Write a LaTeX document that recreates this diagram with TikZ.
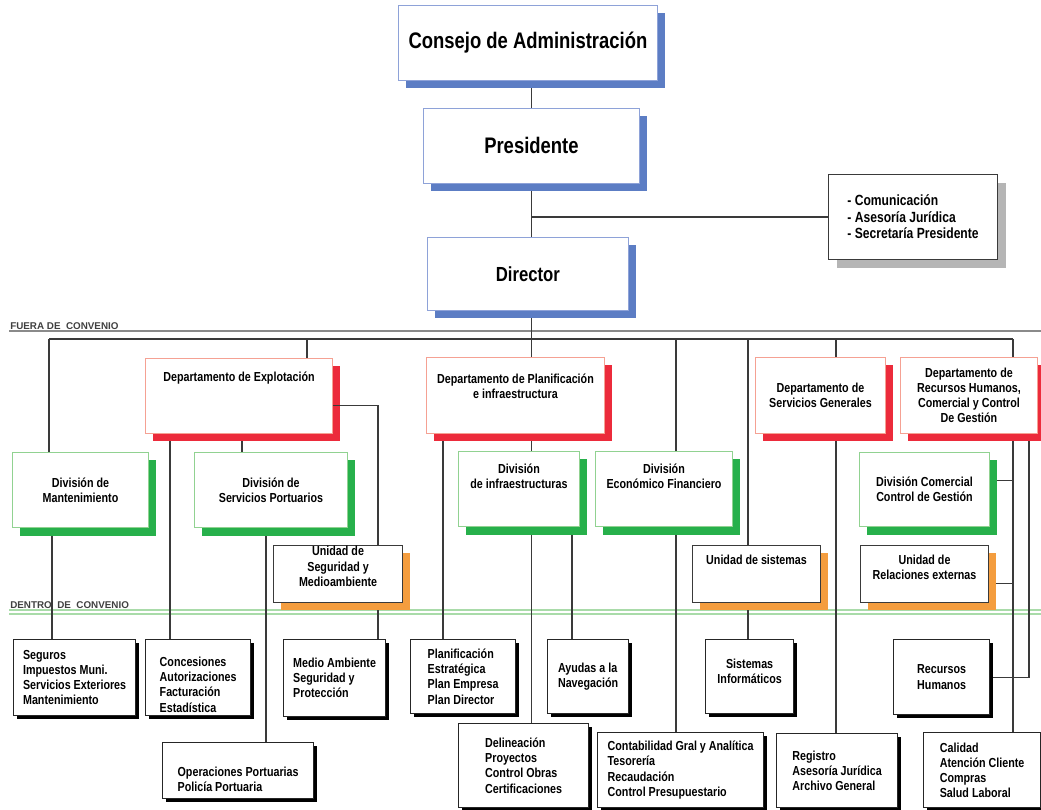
\documentclass[tikz,border=0pt]{standalone}
\usepackage{fontspec}
\newfontfamily\orgfont{Liberation Sans}[FakeStretch=0.82]
\newfontfamily\convfont{Liberation Sans}
\usetikzlibrary{shadows}
\usetikzlibrary{backgrounds}

\definecolor{govline}{HTML}{8EA2D8}
\definecolor{govshade}{HTML}{5C7DC4}
\definecolor{deptline}{HTML}{F5A193}
\definecolor{deptshade}{HTML}{EC2B3B}
\definecolor{divline}{HTML}{91D291}
\definecolor{divshade}{HTML}{27B04B}
\definecolor{unitshade}{HTML}{F49D3E}
\definecolor{staffshade}{HTML}{B5B5B5}
\definecolor{linkgray}{HTML}{3A3A3A}
\definecolor{convgray}{HTML}{8A8A8A}
\definecolor{convgreen}{HTML}{A9DBA9}

\begin{document}
\begin{tikzpicture}[
  orgbox/.style={fill=white, anchor=north west, align=center, inner sep=2pt},
  boxtext/.style={font=\orgfont\bfseries\fontsize{9.3}{10.8}\selectfont, align=center, inner sep=0pt},
  tasktext/.style={boxtext, align=left},
  govbox/.style={orgbox, draw=govline, line width=0.6pt, font=\orgfont\bfseries\fontsize{16}{19}\selectfont,
    drop shadow={shadow xshift=0.2cm, shadow yshift=-0.2cm, fill=govshade, opacity=1}},
  staffbox/.style={orgbox, draw=linkgray, line width=0.8pt, align=left,
    font=\orgfont\bfseries\fontsize{10.5}{11.7}\selectfont,
    drop shadow={shadow xshift=0.2cm, shadow yshift=-0.2cm, fill=staffshade, opacity=1}},
  deptbox/.style={orgbox, draw=deptline, line width=0.7pt, font=\orgfont\bfseries\fontsize{9.3}{10.8}\selectfont,
    drop shadow={shadow xshift=0.2cm, shadow yshift=-0.2cm, fill=deptshade, opacity=1}},
  divbox/.style={orgbox, draw=divline, line width=0.7pt, font=\orgfont\bfseries\fontsize{9.3}{10.8}\selectfont,
    drop shadow={shadow xshift=0.2cm, shadow yshift=-0.2cm, fill=divshade, opacity=1}},
  unitbox/.style={orgbox, draw=linkgray, line width=0.8pt, font=\orgfont\bfseries\fontsize{9.3}{10.8}\selectfont,
    drop shadow={shadow xshift=0.175cm, shadow yshift=-0.175cm, fill=unitshade, opacity=1}},
  taskbox/.style={orgbox, draw=black!85, line width=0.9pt, align=left, font=\orgfont\bfseries\fontsize{9.3}{10.8}\selectfont,
    drop shadow={shadow xshift=0.09cm, shadow yshift=-0.09cm, fill=black, opacity=1}},
  link/.style={draw=linkgray, line width=0.9pt},
  conv/.style={font=\convfont\bfseries\fontsize{7}{8}\selectfont, text=black!75, inner sep=0pt, anchor=base west}
]
\useasboundingbox (0,0) rectangle (26.025,-20.225);

% Top of the chart
\node[govbox, minimum width=6.475cm, minimum height=1.875cm] (consejo) at (9.95,-0.125) {Consejo de Administración};
\node[govbox, minimum width=5.4cm, minimum height=1.875cm] (presidente) at (10.575,-2.7) {Presidente};
\node[govbox, minimum width=5.025cm, minimum height=1.825cm, font=\orgfont\bfseries\fontsize{14.5}{17}\selectfont] (director) at (10.675,-5.925) {Director};
\node[staffbox, minimum width=4.225cm, minimum height=2.125cm] (staff) at (20.7,-4.35) {- Comunicación\\- Asesoría Jurídica\\- Secretaría Presidente};

% Convenio labels
\node[conv] (fuera) at (0.25,-8.225) {FUERA DE~ CONVENIO};
\node[conv] (dentro) at (0.25,-15.2) {DENTRO~ DE~ CONVENIO};

% Departamentos
\node[deptbox, minimum width=4.675cm, minimum height=1.875cm, label={[boxtext, yshift=0.46cm]center:Departamento de Explotación}] (explotacion) at (3.625,-8.95) {};
\node[deptbox, minimum width=4.45cm, minimum height=1.9cm, label={[boxtext, yshift=0.225cm]center:Departamento de Planificación\\e infraestructura}] (planificacion) at (10.65,-8.925) {};
\node[deptbox, minimum width=3.25cm, minimum height=1.9cm] (servgen) at (18.875,-8.925) {Departamento de\\Servicios Generales};
\node[deptbox, minimum width=3.425cm, minimum height=1.9cm] (rrhh) at (22.5,-8.925) {Departamento de\\Recursos Humanos,\\Comercial y Control\\De Gestión};

% Divisiones
\node[divbox, minimum width=3.4cm, minimum height=1.875cm] (mantenimiento) at (0.3,-11.3) {División de\\Mantenimiento};
\node[divbox, minimum width=3.825cm, minimum height=1.875cm] (portuarios) at (4.85,-11.3) {División de\\Servicios Portuarios};
\node[divbox, minimum width=3.025cm, minimum height=1.875cm, label={[boxtext, yshift=0.325cm]center:División\\de infraestructuras}] (infraestructuras) at (11.45,-11.275) {};
\node[divbox, minimum width=3.425cm, minimum height=1.875cm, label={[boxtext, yshift=0.325cm]center:División\\Económico Financiero}] (financiero) at (14.875,-11.275) {};
\node[divbox, minimum width=3.25cm, minimum height=1.85cm] (comercial) at (21.475,-11.3) {División Comercial\\Control de Gestión};

% Unidades
\node[unitbox, minimum width=3.225cm, minimum height=1.425cm, label={[boxtext, yshift=0.19cm]center:Unidad de\\Seguridad y\\Medioambiente}] (seguridad) at (6.825,-13.625) {};
\node[unitbox, minimum width=3.2cm, minimum height=1.425cm, label={[boxtext, yshift=0.36cm]center:Unidad de sistemas}] (sistemas) at (17.3,-13.625) {};
\node[unitbox, minimum width=3.2cm, minimum height=1.425cm, label={[boxtext, yshift=0.175cm]center:Unidad de\\Relaciones externas}] (relaciones) at (21.5,-13.625) {};

% Tareas (dentro de convenio)
\node[taskbox, minimum width=3.05cm, minimum height=1.9cm] (seguros) at (0.325,-15.975) {Seguros\\Impuestos Muni.\\Servicios Exteriores\\Mantenimiento};
\node[taskbox, minimum width=2.625cm, minimum height=1.9cm, label={[tasktext, yshift=-0.175cm]center:Concesiones\\Autorizaciones\\Facturación\\Estadística}] (concesiones) at (3.625,-15.975) {};
\node[taskbox, minimum width=2.55cm, minimum height=1.925cm] (medioamb) at (7.075,-15.975) {Medio Ambiente\\Seguridad y\\Protección};
\node[taskbox, minimum width=2.625cm, minimum height=1.85cm] (planest) at (10.25,-15.975) {Planificación\\Estratégica\\Plan Empresa\\Plan Director};
\node[taskbox, minimum width=2.025cm, minimum height=1.85cm] (ayudas) at (13.675,-15.975) {Ayudas a la\\Navegación};
\node[taskbox, minimum width=2.2cm, minimum height=1.85cm, label={[boxtext, yshift=0.125cm]center:Sistemas\\Informáticos}] (sisinf) at (17.625,-15.975) {};
\node[taskbox, align=center, minimum width=2.4cm, minimum height=1.875cm] (rrhhbox) at (22.325,-15.975) {Recursos\\Humanos};
\node[taskbox, minimum width=3.775cm, minimum height=1.4cm, label={[tasktext, yshift=-0.21cm]center:Operaciones Portuarias\\Policía Portuaria}] (operaciones) at (4.05,-18.55) {};
\node[taskbox, minimum width=3.25cm, minimum height=2.1cm] (delineacion) at (11.45,-18.075) {Delineación\\Proyectos\\Control Obras\\Certificaciones};
\node[taskbox, minimum width=4.15cm, minimum height=1.875cm] (contabilidad) at (14.925,-18.3) {Contabilidad Gral y Analítica\\Tesorería\\Recaudación\\Control Presupuestario};
\node[taskbox, minimum width=3.025cm, minimum height=1.85cm] (registro) at (19.4,-18.325) {Registro\\Asesoría Jurídica\\Archivo General};
\node[taskbox, minimum width=2.925cm, minimum height=1.875cm] (calidad) at (23.075,-18.3) {Calidad\\Atención Cliente\\Compras\\Salud Laboral};

% Columns of the connectors
\foreach \nm/\x in {mantcol/1.225, segcol/1.3, conccol/4.25, portcol/6.05, opercol/6.65, explcol/7.675,
  segucol/9.45, planestcol/11.075, axis/13.29, ayucol/14.3, fincol/16.9, siscol/18.7, servcol/20.9,
  rrhhcol/25.325, rhcol/25.725}
  \coordinate (\nm) at (\x,0);
\coordinate (bus) at (0,-8.475);

% Explotacion branch runs over its shadow
\draw[link] ([yshift=-0.2375cm]explotacion.east) -| (segucol |- seguridad.north);

\begin{pgfonlayer}{background}
% Convenio lines
\draw[convgray, line width=1.3pt] (0.225,-8.275) -- (26.025,-8.275);
\draw[convgreen, line width=0.8pt] (0.225,-15.25) -- (26.025,-15.25);
\draw[convgreen, line width=0.8pt] (0.225,-15.35) -- (26.025,-15.35);

% Top chain
\draw[link] (axis |- consejo.south) -- (axis |- presidente.north);
\draw[link] (axis |- presidente.south) -- (axis |- director.north);
\draw[link] (axis |- staff.west) -- (staff.west);
\draw[link] (axis |- director.south) -- (axis |- planificacion.north);
\draw[link] (mantcol |- bus) -- (rrhhcol |- bus);

% Drops from the bus
\foreach \cx/\nd in {mantcol/mantenimiento, explcol/explotacion, fincol/financiero,
  siscol/sistemas, servcol/servgen, rrhhcol/rrhh}
  \draw[link] (\cx |- bus) -- (\cx |- \nd.north);

% Down the chart
\foreach \cx/\up/\down in {segcol/mantenimiento/seguros, conccol/explotacion/concesiones,
  portcol/explotacion/portuarios, opercol/portuarios/operaciones, segucol/seguridad/medioamb,
  planestcol/planificacion/planest, axis/planificacion/infraestructuras,
  axis/infraestructuras/delineacion, ayucol/infraestructuras/ayudas, fincol/financiero/contabilidad,
  siscol/sistemas/sisinf, servcol/servgen/registro, rrhhcol/rrhh/calidad}
  \draw[link] (\cx |- \up.south) -- (\cx |- \down.north);

% Side branches
\draw[link] ([yshift=0.225cm]comercial.east) -- ++(0.6,0);
\draw[link] ([yshift=-0.2375cm]relaciones.east) -- ++(0.625,0);
\draw[link] (rhcol |- rrhh.south) |- (rrhhbox.east);
\end{pgfonlayer}

\end{tikzpicture}
\end{document}
